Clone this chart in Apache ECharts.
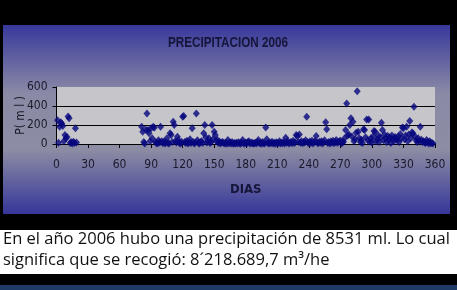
<!DOCTYPE html>
<html>
<head>
<meta charset="utf-8">
<script src="https://cdn.jsdelivr.net/npm/echarts@6/dist/echarts.min.js"></script>
<style>
html,body{margin:0;padding:0;background:#000;}
#c{width:457px;height:290px;}
</style>
</head>
<body>
<div id="c"></div>
<script>
// Datos
const titulo = "PRECIPITACION 2006";
const ejeX = "DIAS";
const ejeY = "P( m l )";
const ticksX = [0, 30, 60, 90, 120, 150, 180, 210, 240, 270, 300, 330, 360];
const ticksY = [0, 200, 400, 600];
const texto1 = "En el año 2006 hubo una precipitación de 8531 ml. Lo cual";
const texto2 = "significa que se recogió: 8´218.689,7 m³/he";

// tramo 1: días 1..19
const tramo1Inicio = 1;
const tramo1 = [250,14,182,230,217,190,30,95,60,75,290,270,10,20,5,25,10,165,15];
// tramo 2: días 81..358
const tramo2Inicio = 81;
const tramo2 = [
182,130,20,5,150,322,147,112,30,165,
60,182,170,20,10,5,40,15,182,30,
10,25,5,15,60,10,5,112,95,20,
235,200,30,15,77,40,10,5,25,287,
294,20,10,35,5,15,50,10,165,20,
5,15,322,40,10,5,20,30,10,112,
200,70,15,30,60,10,20,200,50,130,
95,30,45,10,25,5,15,20,10,5,
12,3,42,8,15,5,20,2,10,6,
14,4,18,7,3,12,42,9,5,15,
6,20,30,4,10,16,3,8,12,5,
18,42,7,14,3,22,9,5,175,49,
11,4,16,8,25,6,13,3,19,7,
10,28,5,15,9,20,4,67,12,30,
6,14,22,8,35,10,18,95,84,25,
101,12,30,7,20,15,40,287,18,9,
26,11,35,5,22,30,84,14,8,25,
12,30,6,18,40,228,154,10,22,5,
28,14,35,9,20,42,12,20,30,35,
8,15,25,60,147,427,90,101,200,270,
80,235,30,50,119,556,130,60,20,45,
10,154,147,70,259,40,259,25,60,15,
80,136,130,30,50,90,20,70,224,147,
40,100,60,20,85,45,70,10,90,50,
30,75,60,40,80,20,105,60,175,165,
50,90,182,30,100,242,60,122,112,392,
80,40,20,60,30,182,45,20,30,15,
10,42,20,5,30,7,10,5
];

const puntos = [];
tramo1.forEach((v, i) => puntos.push([tramo1Inicio + i, v]));
tramo2.forEach((v, i) => puntos.push([tramo2Inicio + i, v]));

const fontCond = '"DejaVu Sans Condensed","Liberation Sans",sans-serif';

const chart = echarts.init(document.getElementById('c'), null, {renderer: 'canvas'});
chart.setOption({
  animation: false,
  backgroundColor: '#000',
  graphic: [
    {type: 'rect', z: -10, shape: {x: 3, y: 25, width: 447, height: 189},
     style: {fill: new echarts.graphic.LinearGradient(0, 0, 0, 1, [
       {offset: 0, color: '#38389c'},
       {offset: 0.36, color: '#8a8aa6'},
       {offset: 0.66, color: '#8c8ca4'},
       {offset: 1, color: '#36369a'}
     ])}},
    {type: 'text', x: 228, y: 43, scaleX: 0.78, z: 5,
     style: {text: titulo, align: 'center', verticalAlign: 'middle', fill: '#15153a',
             font: 'bold 15px "Liberation Sans", sans-serif'}},
    {type: 'rect', z: -10, shape: {x: 0, y: 230, width: 457, height: 44}, style: {fill: '#ffffff'}},
    {type: 'rect', z: -10, shape: {x: 0, y: 285, width: 457, height: 5}, style: {fill: '#1f3a66'}},
    {type: 'text', left: 3, top: 231, style: {text: texto1, fill: '#111', font: '16.5px "Open Sans", sans-serif'}},
    {type: 'text', left: 3, top: 252, style: {text: texto2, fill: '#111', font: '16.5px "Open Sans", sans-serif'}}
  ],
  grid: {left: 56.5, top: 87, width: 378.5, height: 57, show: true, backgroundColor: '#c6c6ca', borderWidth: 0},
  xAxis: {
    type: 'value', min: ticksX[0], max: ticksX[ticksX.length - 1], interval: 30,
    name: ejeX, nameLocation: 'middle', nameGap: 46, nameMoveOverlap: false,
    nameTextStyle: {fontFamily: fontCond, fontSize: 13, fontWeight: 'bold', color: '#15153a', verticalAlign: 'middle'},
    axisLine: {show: true, onZero: false, lineStyle: {color: '#000', width: 1}},
    axisTick: {show: true, length: 4, lineStyle: {color: '#000'}},
    axisLabel: {fontFamily: fontCond, fontSize: 12, color: '#1a1a2a', margin: 15},
    splitLine: {show: false}
  },
  yAxis: {
    type: 'value', min: ticksY[0], max: ticksY[ticksY.length - 1], interval: 200,
    name: ejeY, nameLocation: 'middle', nameGap: 30, nameRotate: 90, nameMoveOverlap: false,
    nameTextStyle: {fontFamily: fontCond, fontSize: 12, color: '#1a1a2a'},
    axisLine: {show: true, lineStyle: {color: '#000', width: 1}},
    axisTick: {show: true, length: 4, lineStyle: {color: '#000'}},
    axisLabel: {fontFamily: fontCond, fontSize: 12, color: '#1a1a2a', margin: 9},
    splitLine: {show: true, lineStyle: {color: ['#000', '#000', '#000', 'rgba(0,0,0,0)'], width: 1}}
  },
  series: [{
    type: 'scatter',
    data: puntos,
    symbol: 'diamond',
    symbolSize: [7, 8],
    itemStyle: {color: '#06067e'},
    clip: false
  }]
});
</script>
</body>
</html>
